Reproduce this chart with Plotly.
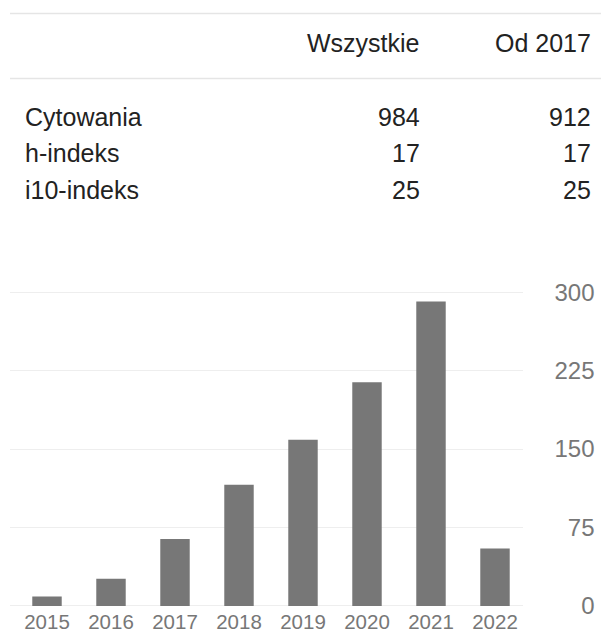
import plotly.graph_objects as go

W, H = 601, 642

# ---- data ----
years = ["2015", "2016", "2017", "2018", "2019", "2020", "2021", "2022"]
citations = [9, 26, 64, 116, 159, 214, 291, 55]
y_tick_values = [0, 75, 150, 225, 300]
y_tick_labels = ["0", "75", "150", "225", "300"]

table_header = ["Wszystkie", "Od 2017"]
table_row_labels = ["Cytowania", "h-indeks", "i10-indeks"]
table_all = ["984", "17", "25"]
table_since = ["912", "17", "25"]


def fx(px):
    return px / W


def fy(py):
    return 1 - py / H


FONT = "Liberation Sans, Arial, sans-serif"
TXT = "#222222"
TICK = "#777777"
LINE = "#e5e5e5"

fig = go.Figure()
fig.add_trace(go.Bar(
    x=years, y=citations,
    marker=dict(color="#777777", line=dict(width=0)),
    hoverinfo="x+y",
))

# chart geometry (pixels in the window)
py_zero = 617.5
px_per_unit = (617.5 - 297.2) / 300
y_lo, y_hi = -1.5, 312
dom_bottom = py_zero + (0 - y_lo) * px_per_unit
dom_top = py_zero - y_hi * px_per_unit
cat_w = 64.0
first_center = 47.0
gx0, gx1 = 10.3, 522.6

fig.update_layout(
    width=W, height=H,
    margin=dict(l=0, r=0, t=0, b=0),
    paper_bgcolor="white", plot_bgcolor="white",
    showlegend=False,
    bargap=0.54,
    font=dict(family=FONT, color=TXT),
    xaxis=dict(
        domain=[fx(gx0), fx(gx1)],
        range=[(gx0 - first_center) / cat_w, (gx1 - first_center) / cat_w],
        showgrid=False, showline=False, zeroline=False, ticks="",
        tickfont=dict(size=20.5, color=TICK, family=FONT),
        fixedrange=True,
    ),
    yaxis=dict(
        domain=[fy(dom_bottom), fy(dom_top)],
        range=[y_lo, y_hi],
        anchor="free", position=fx(594.5), side="left",
        tickmode="array", tickvals=y_tick_values, ticktext=y_tick_labels,
        showgrid=True, gridcolor="#eeeeee", gridwidth=1,
        zeroline=False, showline=False, ticks="",
        tickfont=dict(size=24, color=TICK, family=FONT),
        fixedrange=True,
    ),
)

# table lines
for py in (12.7, 79.0):
    fig.add_shape(type="line", xref="paper", yref="paper",
                  x0=fx(10), x1=1, y0=fy(py), y1=fy(py),
                  line=dict(color=LINE, width=1.5))

# table header
TS = 25
col_right = [421.6, 592.5]
for txt, xr in zip(table_header, col_right):
    fig.add_annotation(x=fx(xr), y=fy(43), xref="paper", yref="paper",
                       text=txt, showarrow=False, xanchor="right", yanchor="middle",
                       font=dict(size=TS, color=TXT, family=FONT))

row_y = [118, 155, 193]
for lab, a, s, py in zip(table_row_labels, table_all, table_since, row_y):
    fig.add_annotation(x=fx(22.7), y=fy(py), xref="paper", yref="paper",
                       text=lab, showarrow=False, xanchor="left", yanchor="middle",
                       font=dict(size=TS, color=TXT, family=FONT))
    fig.add_annotation(x=fx(col_right[0]), y=fy(py), xref="paper", yref="paper",
                       text=a, showarrow=False, xanchor="right", yanchor="middle",
                       font=dict(size=TS, color=TXT, family=FONT))
    fig.add_annotation(x=fx(col_right[1]), y=fy(py), xref="paper", yref="paper",
                       text=s, showarrow=False, xanchor="right", yanchor="middle",
                       font=dict(size=TS, color=TXT, family=FONT))

# remove the default 8px body margin so the 601x642 figure fills the window exactly
fig.write_html("out.html", config={"displayModeBar": False},
               post_script="document.body.style.margin='0';")
